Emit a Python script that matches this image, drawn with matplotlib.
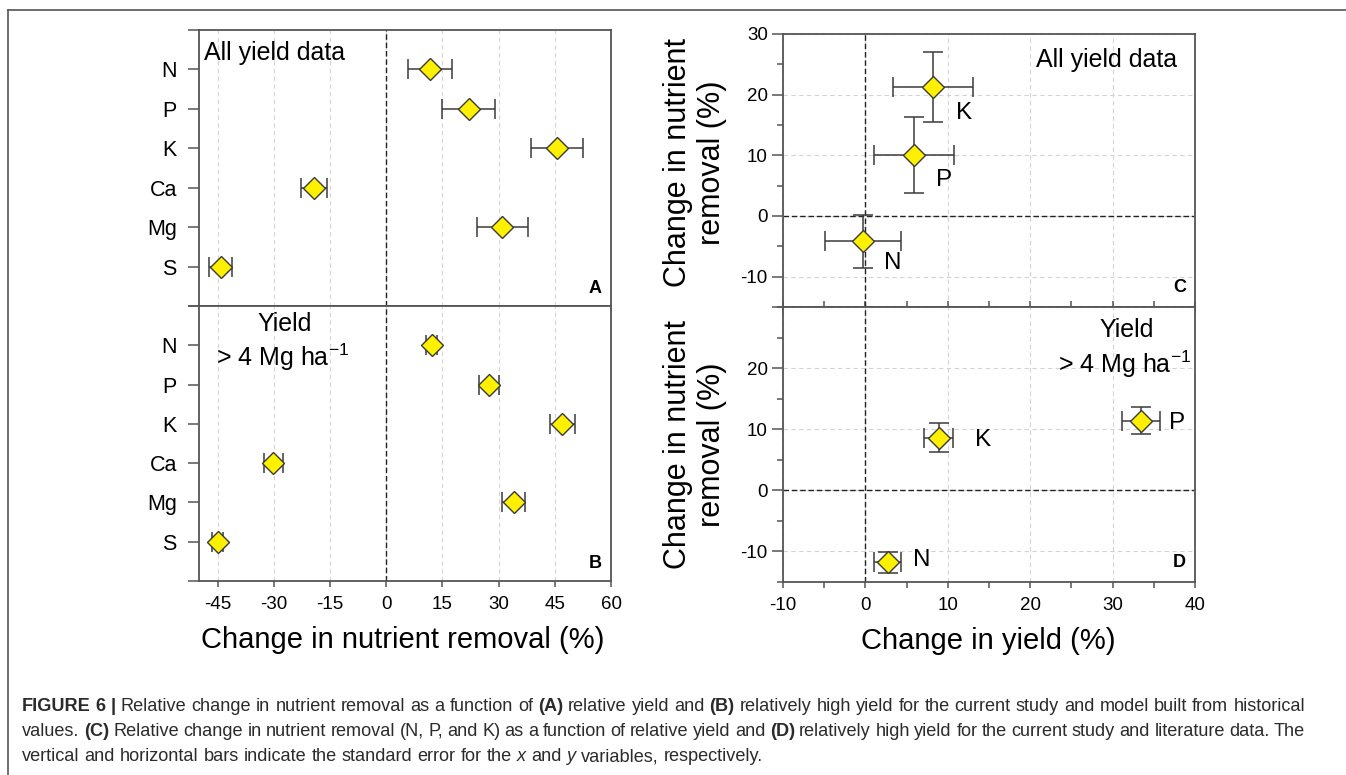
import matplotlib
matplotlib.use("Agg")
import matplotlib.pyplot as plt
from matplotlib.lines import Line2D
from matplotlib.ticker import MultipleLocator

plt.rcParams["font.family"] = ["Liberation Sans", "DejaVu Sans"]
plt.rcParams["axes.unicode_minus"] = False
plt.rcParams["mathtext.fontset"] = "custom"
plt.rcParams["mathtext.rm"] = "Liberation Sans"
plt.rcParams["mathtext.it"] = "Liberation Sans:italic"
plt.rcParams["mathtext.bf"] = "Liberation Sans:bold"

W, H, DPI = 1346, 775, 100
YELLOW = "#FFF000"
EDGE = "#3a3a3a"
SPINE = "#555555"
GRID = "#d4d4d4"
TEXT = "#2b2b2b"

# panels A / B : change in nutrient removal per nutrient
nutrients = ["N", "P", "K", "Ca", "Mg", "S"]
removal_all = [11.7, 22.0, 45.6, -19.4, 31.0, -44.2]
removal_all_se = [5.8, 7.0, 7.0, 3.5, 6.9, 3.0]
removal_high = [12.1, 27.4, 47.0, -30.2, 34.0, -45.0]
removal_high_se = [1.5, 2.7, 3.4, 2.5, 3.0, 1.5]
ab_xticks = [-45, -30, -15, 0, 15, 30, 45, 60]

# panels C / D : change in removal vs change in yield (N, P, K)
npk = ["N", "P", "K"]
c_yield = [-0.3, 5.9, 8.2]
c_yield_se = [4.6, 4.85, 4.9]
c_removal = [-4.2, 10.0, 21.3]
c_removal_se = [4.4, 6.25, 5.75]
d_yield = [2.7, 33.5, 8.9]
d_yield_se = [1.6, 2.3, 1.75]
d_removal = [-11.8, 11.4, 8.6]
d_removal_se = [1.7, 2.2, 2.4]

caption = [
  "*FIGURE* *6* *|* Relative change in nutrient removal as a function of *(A)* relative yield and *(B)* relatively high yield for the current study and model built from historical",
  "values. *(C)* Relative change in nutrient removal (N, P, and K) as a function of relative yield and *(D)* relatively high yield for the current study and literature data. The",
  "vertical and horizontal bars indicate the standard error for the _x_ and _y_ variables, respectively.",
]


def add_axes_px(fig, left, top, right, bottom):
  return fig.add_axes([left / W, 1 - bottom / H, (right - left) / W, (bottom - top) / H])


def style_spines(ax):
  for sp in ax.spines.values():
    sp.set_color(SPINE)
    sp.set_linewidth(1.3)


def dot_panel(ax, values, errors, letter, show_xlabels):
  """Horizontal dot plot with x error bars, one row per nutrient."""
  ypos = list(range(len(nutrients), 0, -1))
  ax.errorbar(values, ypos, xerr=errors, fmt="none", ecolor=EDGE, elinewidth=1.1,
              capsize=7, capthick=1.1, zorder=3)
  ax.plot(values, ypos, ls="none", marker="D", ms=11.5, mfc=YELLOW, mec=EDGE, mew=1, zorder=4)
  ax.axvline(0, color="#222222", lw=1, ls=(0, (4, 2)), zorder=2)

  ax.set_xlim(-50, 60)
  ax.set_ylim(0, len(nutrients) + 1)
  ax.set_xticks(ab_xticks)
  ax.set_yticks(range(0, len(nutrients) + 2))
  ax.set_yticklabels([""] + nutrients[::-1] + [""])
  ax.grid(axis="x", color=GRID, ls=(0, (4, 3)), lw=0.8, zorder=1)
  ax.tick_params(axis="y", direction="out", length=8, width=1.1, color=SPINE, pad=8, labelsize=15.5)
  ax.tick_params(axis="x", direction="out", length=4, width=1.1, color=SPINE, pad=7, labelsize=13.5)
  if not show_xlabels:
    ax.tick_params(axis="x", labelbottom=False)
  style_spines(ax)
  ax.text(0.962, 0.065, letter, transform=ax.transAxes, ha="center", va="center",
          fontsize=13, fontweight="bold")


def scatter_panel(ax, xs, xerr, ys, yerr, label_offsets, letter, show_xlabels):
  """Change in removal vs change in yield with x and y error bars."""
  ax.errorbar(xs, ys, xerr=xerr, yerr=yerr, fmt="none", ecolor=EDGE, elinewidth=1.1,
              capsize=7, capthick=1.1, zorder=3)
  ax.plot(xs, ys, ls="none", marker="D", ms=11.5, mfc=YELLOW, mec=EDGE, mew=1, zorder=4)
  for x, y, name, off in zip(xs, ys, npk, label_offsets):
    ax.annotate(name, (x, y), xytext=off, textcoords="offset points", ha="center",
                va="center", fontsize=17.5)
  ax.axvline(0, color="#222222", lw=1, ls=(0, (4, 2)), zorder=2)
  ax.axhline(0, color="#222222", lw=1, ls=(0, (4, 2)), zorder=2)

  ax.set_xlim(-10, 40)
  ax.set_ylim(-15, 30)
  ax.xaxis.set_major_locator(MultipleLocator(10))
  ax.xaxis.set_minor_locator(MultipleLocator(5))
  ax.yaxis.set_major_locator(MultipleLocator(10))
  ax.yaxis.set_minor_locator(MultipleLocator(5))
  ax.grid(which="major", color=GRID, ls=(0, (4, 3)), lw=0.8, zorder=1)
  ax.tick_params(axis="y", which="major", direction="out", length=8, width=1.1, color=SPINE,
                 pad=3, labelsize=13.5)
  ax.tick_params(axis="y", which="minor", direction="out", length=4, width=1.1, color=SPINE)
  if show_xlabels:
    ax.tick_params(axis="x", which="both", direction="out", length=4, width=1.1, color=SPINE,
                   pad=7, labelsize=13.5)
  else:
    ax.tick_params(axis="x", which="both", direction="inout", length=8, width=1.1,
                   color=SPINE, labelbottom=False)
  style_spines(ax)
  ax.text(0.962, 0.071, letter, transform=ax.transAxes, ha="center", va="center",
          fontsize=13, fontweight="bold")


def draw_caption(fig, lines, x0, y0, line_h, right, size):
  """Word by word caption so bold / italic pieces can sit inline; full lines justified."""
  renderer = fig.canvas.get_renderer()
  space = 0.278 * size / 72 * DPI
  for i, line in enumerate(lines):
    arts = []
    for word in line.split(" "):
      weight, style = "normal", "normal"
      if word.startswith("*"):
        word, weight = word.strip("*"), "bold"
      elif word.startswith("_"):
        word, style = word.strip("_"), "italic"
      arts.append(fig.text(0, 0, word, fontsize=size, fontweight=weight, fontstyle=style,
                           color=TEXT, va="baseline", ha="left"))
    widths = [t.get_window_extent(renderer).width for t in arts]
    gap = space
    if i < len(lines) - 1:
      gap = (right - x0 - sum(widths)) / (len(arts) - 1)
    x = x0
    y = 1 - (y0 + i * line_h) / H
    for t, w in zip(arts, widths):
      t.set_position((x / W, y))
      x += w + gap


fig = plt.figure(figsize=(W / DPI, H / DPI), dpi=DPI)

ax_a = add_axes_px(fig, 199, 30, 611, 306)
ax_b = add_axes_px(fig, 199, 306, 611, 581)
ax_c = add_axes_px(fig, 783, 34, 1195, 307)
ax_d = add_axes_px(fig, 783, 307, 1195, 582)

dot_panel(ax_a, removal_all, removal_all_se, "A", False)
dot_panel(ax_b, removal_high, removal_high_se, "B", True)
ax_a.text(0.012, 0.915, "All yield data", transform=ax_a.transAxes, ha="left", va="center", fontsize=18)
ax_b.text(0.209, 0.935, "Yield", transform=ax_b.transAxes, ha="center", va="center", fontsize=18)
ax_b.text(0.204, 0.812, "> 4 Mg ha$^{-1}$", transform=ax_b.transAxes, ha="center", va="center", fontsize=18)
ax_b.set_xlabel("Change in nutrient removal (%)", fontsize=21)
ax_b.xaxis.set_label_coords(0.495, -0.165)

scatter_panel(ax_c, c_yield, c_yield_se, c_removal, c_removal_se,
              [(21.6, -15.8), (21.6, -18), (22.3, -18.7)], "C", False)
scatter_panel(ax_d, d_yield, d_yield_se, d_removal, d_removal_se,
              [(24.5, 1.7), (25.9, -1.7), (31.7, -1.4)], "D", True)
ax_d.set_yticks([-10, 0, 10, 20, 30])
ax_d.set_yticklabels(["-10", "0", "10", "20", ""])
ax_c.text(0.786, 0.905, "All yield data", transform=ax_c.transAxes, ha="center", va="center", fontsize=18)
ax_d.text(0.834, 0.915, "Yield", transform=ax_d.transAxes, ha="center", va="center", fontsize=18)
ax_d.text(0.83, 0.79, "> 4 Mg ha$^{-1}$", transform=ax_d.transAxes, ha="center", va="center", fontsize=18)
for ax, ycen in [(ax_c, 0.53), (ax_d, 0.5)]:
  ax.set_ylabel("Change in nutrient\nremoval (%)", fontsize=22, linespacing=1.2)
  ax.yaxis.set_label_coords(-0.135, ycen)
ax_d.set_xlabel("Change in yield (%)", fontsize=21)
ax_d.xaxis.set_label_coords(0.498, -0.165)

# frame round the figure (top and left edges only are in view)
fig.add_artist(Line2D([8 / W, 1], [1 - 10 / H, 1 - 10 / H], transform=fig.transFigure, color=SPINE, lw=1.2))
fig.add_artist(Line2D([8 / W, 8 / W], [0, 1 - 10 / H], transform=fig.transFigure, color=SPINE, lw=1.2))

draw_caption(fig, caption, 22, 711, 25, 1305, 13.1)

fig.savefig("out.png", dpi=DPI)
plt.close()
